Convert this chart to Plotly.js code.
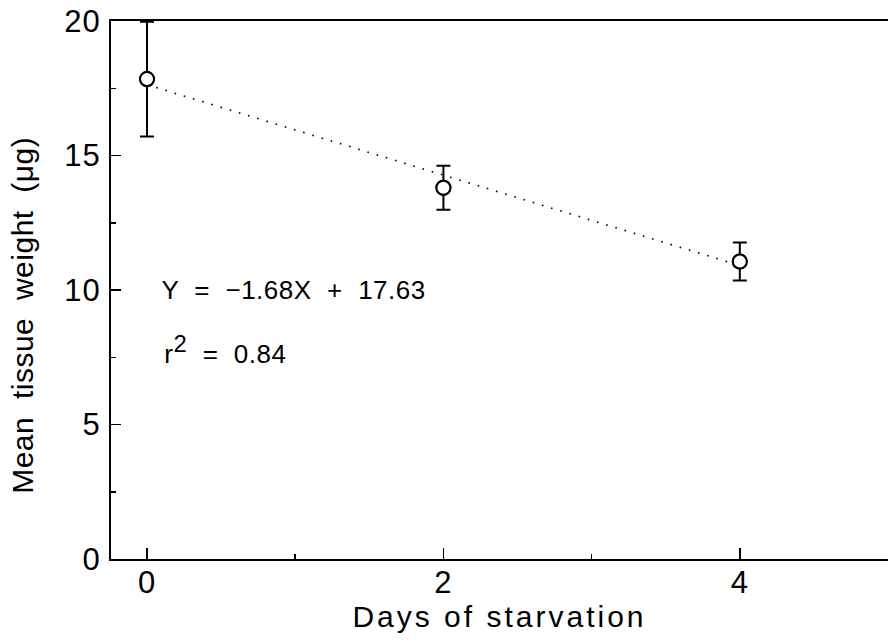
<!DOCTYPE html>
<html>
<head>
<meta charset="utf-8">
<script src="https://cdn.plot.ly/plotly-3.0.1.min.js"></script>
<style>
html,body{margin:0;padding:0;background:#fff;}
#chart{width:888px;height:643px;}
#chart .xtick text,#chart .ytick text{letter-spacing:1px;}
#chart .g-xtitle text{letter-spacing:3px;}
#chart .annotation text{letter-spacing:0.5px;}
</style>
</head>
<body>
<div id="chart"></div>
<script>
const days = [0, 2, 4];
const meanWeight = [17.84, 13.8, 11.06];
const errWeight = [2.13, 0.82, 0.71];
const fitDays = [0, 4];
const fitWeight = [17.63, 10.91];
const xTicks = [0, 2, 4];
const yTicks = [0, 5, 10, 15, 20];

const font = {family: 'Liberation Sans, Arial, sans-serif', color: '#000'};
const f = (s) => Object.assign({}, font, {size: s});

const traces = [
  {
    x: fitDays, y: fitWeight, type: 'scatter', mode: 'lines',
    line: {color: '#000', width: 1.6, dash: '1.6px,8px'},
    hoverinfo: 'skip', showlegend: false, cliponaxis: false
  },
  {
    x: days, y: meanWeight, type: 'scatter', mode: 'markers',
    marker: {symbol: 'circle', size: 14, color: '#fff', line: {width: 2, color: '#000'}},
    error_y: {type: 'data', array: errWeight, visible: true, color: '#000', thickness: 2, width: 7},
    showlegend: false, cliponaxis: false
  },
  {
    x: days, y: meanWeight, type: 'scatter', mode: 'markers',
    marker: {symbol: 'circle', size: 14, color: '#fff', line: {width: 2, color: '#000'}},
    showlegend: false, hoverinfo: 'skip', cliponaxis: false
  }
];

const layout = {
  width: 888, height: 643,
  margin: {l: 111, r: 0, t: 21, b: 84},
  paper_bgcolor: '#fff', plot_bgcolor: '#fff',
  font: f(30),
  showlegend: false,
  xaxis: {
    range: [-0.243, 5.0],
    tickvals: xTicks, ticktext: xTicks.map(String),
    ticks: 'inside', ticklen: 11, tickwidth: 1.5, tickcolor: '#000',
    minor: {tickvals: [1, 3], ticks: 'inside', ticklen: 5, tickwidth: 1.5, tickcolor: '#000', showgrid: false},
    showline: true, linecolor: '#000', linewidth: 2, mirror: true,
    showgrid: false, zeroline: false,
    tickfont: f(31),
    ticklabelstandoff: -5,
    title: {text: 'Days of starvation', font: f(30), standoff: 0}
  },
  yaxis: {
    range: [0, 20],
    tickvals: yTicks, ticktext: yTicks.map(String),
    ticks: 'inside', ticklen: 10, tickwidth: 1.5, tickcolor: '#000',
    minor: {dtick: 2.5, tick0: 0, ticks: 'inside', ticklen: 5, tickwidth: 1.5, tickcolor: '#000', showgrid: false},
    showline: true, linecolor: '#000', linewidth: 2, mirror: false,
    showgrid: false, zeroline: false,
    tickfont: f(31),
    ticklabelstandoff: 2
  },
  annotations: [
    {xref: 'paper', yref: 'paper', x: -0.1145, y: 0.453, xanchor: 'center', yanchor: 'middle',
     textangle: -90, text: 'Mean  tissue  weight  (μg)', showarrow: false, font: f(30)},
    {xref: 'paper', yref: 'y', x: 0.07, y: 10.0, xanchor: 'left', yanchor: 'middle',
     text: 'Y  =  \u22121.68X  +  17.63', showarrow: false, font: f(26)},
    {xref: 'paper', yref: 'y', x: 0.07, y: 7.8, xanchor: 'left', yanchor: 'middle',
     text: 'r<sup><span style="font-size:24px">2</span></sup>  =  0.84', showarrow: false, font: f(26)}
  ]
};

Plotly.newPlot('chart', traces, layout, {staticPlot: true, displayModeBar: false});
</script>
</body>
</html>
